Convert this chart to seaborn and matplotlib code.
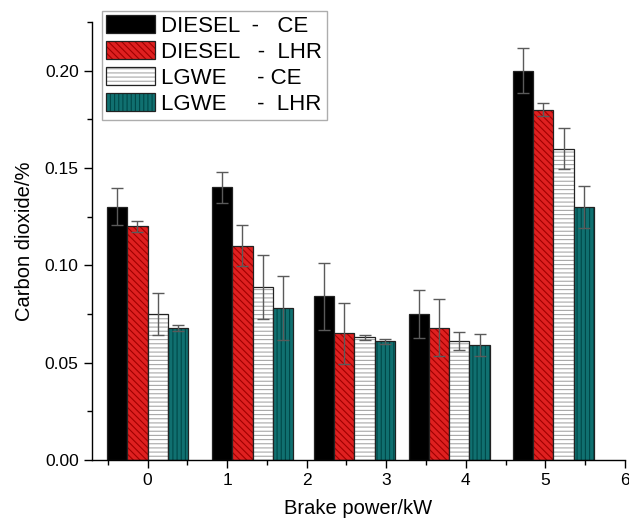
import numpy as np
import pandas as pd
import seaborn as sns
import matplotlib.pyplot as plt
import matplotlib.colors as mcolors
from matplotlib.ticker import MultipleLocator

# group positions along the brake power axis (as they sit in the original figure)
power = [0, 1.32, 2.6, 3.79, 5.1]

series = ['DIESEL  -   CE', 'DIESEL   -  LHR', 'LGWE     - CE', 'LGWE     -  LHR']

diesel_ce = [0.130, 0.140, 0.084, 0.075, 0.200]
diesel_lhr = [0.120, 0.110, 0.065, 0.068, 0.180]
lgwe_ce = [0.075, 0.089, 0.063, 0.061, 0.160]
lgwe_lhr = [0.068, 0.078, 0.061, 0.059, 0.130]

diesel_ce_err = [0.0095, 0.008, 0.017, 0.0123, 0.0114]
diesel_lhr_err = [0.003, 0.0105, 0.0155, 0.0145, 0.0035]
lgwe_ce_err = [0.011, 0.0165, 0.0013, 0.0045, 0.0107]
lgwe_lhr_err = [0.0015, 0.0165, 0.0013, 0.0055, 0.011]

values = [diesel_ce, diesel_lhr, lgwe_ce, lgwe_lhr]
errors = [diesel_ce_err, diesel_lhr_err, lgwe_ce_err, lgwe_lhr_err]

face = ['black', '#ff0000', 'white', '#008080']
hatch = ['', '\\\\\\\\\\', '----', '||||']
hatch_col = ['black', '#a00000', '#a8a8a8', '#004848']

rows = []
for name, vals in zip(series, values):
    for p, v in zip(power, vals):
        rows.append({'power': p, 'co2': v, 'fuel': name})
df = pd.DataFrame(rows)

sns.set_style('ticks')
plt.rcParams['font.family'] = ['Liberation Sans', 'DejaVu Sans']
plt.rcParams['hatch.linewidth'] = 0.8
for k in ['text.color', 'axes.labelcolor', 'xtick.color', 'ytick.color', 'axes.edgecolor']:
    plt.rcParams[k] = 'black'

fig = plt.figure(figsize=(6.29, 5.28), dpi=100)
ax = fig.add_axes([0.146, 0.1288, 0.8476, 0.8295])

sns.barplot(data=df, x='power', y='co2', hue='fuel', hue_order=series,
            native_scale=True, width=0.857, palette=face, errorbar=None,
            edgecolor='#222222', linewidth=0.9, legend=False, ax=ax)

bars = list(ax.containers)

# hatching and error bars per series
for i, cont in enumerate(bars):
    xs = []
    for p in cont.patches:
        p.set_edgecolor('#222222')
        p.set_hatch(hatch[i])
        # hatch lines in their own colour, not the outline colour
        p._hatch_color = mcolors.to_rgba(hatch_col[i])
        xs.append(p.get_x() + p.get_width() / 2)
    ax.errorbar(xs, values[i], yerr=errors[i], fmt='none', ecolor='#5a5a5a',
                elinewidth=1.0, capsize=4.2, capthick=1.0, zorder=5)

ax.set_xlim(-0.7, 6)
ax.set_ylim(0, 0.225)
ax.xaxis.set_major_locator(MultipleLocator(1))
ax.xaxis.set_minor_locator(MultipleLocator(0.5))
ax.yaxis.set_major_locator(MultipleLocator(0.05))
ax.yaxis.set_minor_locator(MultipleLocator(0.025))
ax.xaxis.set_major_formatter(plt.FormatStrFormatter('%d'))
ax.yaxis.set_major_formatter(plt.FormatStrFormatter('%.2f'))
ax.tick_params(which='major', direction='out', length=6, width=1, labelsize=12.5, color='black')
ax.tick_params(which='minor', direction='out', length=3.5, width=1, color='black')
for s in ['left', 'bottom']:
    ax.spines[s].set_color('black')
    ax.spines[s].set_linewidth(1)
sns.despine(ax=ax)

ax.set_xlabel('Brake power/kW', fontsize=14.5, labelpad=8)
ax.set_ylabel('Carbon dioxide/%', fontsize=14.5, labelpad=8)

leg = ax.legend(handles=bars, labels=series, loc='upper left',
                bbox_to_anchor=(0.019, 1.026), borderaxespad=0, fontsize=16,
                frameon=True, fancybox=False, edgecolor='#999999',
                handlelength=2.17, handleheight=0.87, handletextpad=0.3,
                labelspacing=0.2, borderpad=0.2)
leg.get_frame().set_linewidth(1)

fig.savefig('out.png', dpi=100)
